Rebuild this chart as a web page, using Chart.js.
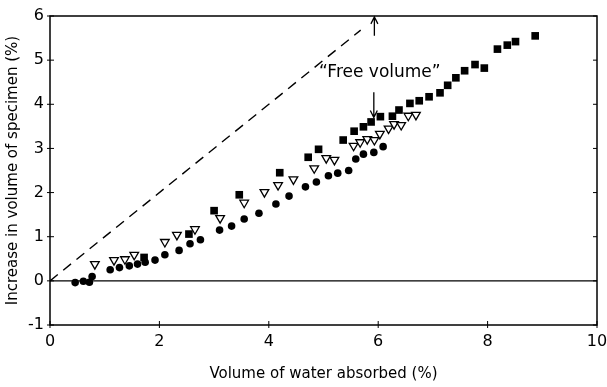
<!DOCTYPE html>
<html>
<head>
<meta charset="utf-8">
<script src="https://cdn.jsdelivr.net/npm/chart.js@4"></script>
<style>
  body { margin: 0; background: #fff; }
  canvas { display: block; }
</style>
</head>
<body>
<canvas id="myChart" width="607" height="387"></canvas>
<script>
// Swelling of the specimens against water taken up (both in %)
var circleX = [0.46, 0.61, 0.72, 0.77, 1.10, 1.27, 1.45, 1.60, 1.74, 1.92, 2.10, 2.36, 2.56, 2.75, 3.10, 3.32, 3.55, 3.82, 4.13, 4.37, 4.67, 4.87, 5.09, 5.26, 5.46, 5.59, 5.73, 5.92, 6.09];
var circleY = [-0.04, -0.01, -0.03, 0.10, 0.25, 0.30, 0.34, 0.38, 0.42, 0.47, 0.59, 0.69, 0.84, 0.93, 1.15, 1.24, 1.40, 1.53, 1.74, 1.92, 2.13, 2.24, 2.38, 2.44, 2.50, 2.76, 2.87, 2.91, 3.04];

var squareX = [1.72, 2.54, 3.00, 3.46, 4.20, 4.72, 4.91, 5.36, 5.56, 5.73, 5.87, 6.04, 6.26, 6.38, 6.58, 6.75, 6.93, 7.13, 7.27, 7.42, 7.58, 7.77, 7.94, 8.18, 8.36, 8.51, 8.87];
var squareY = [0.53, 1.06, 1.59, 1.95, 2.45, 2.80, 2.98, 3.19, 3.39, 3.49, 3.60, 3.72, 3.73, 3.87, 4.02, 4.08, 4.17, 4.26, 4.43, 4.60, 4.76, 4.90, 4.82, 5.25, 5.34, 5.42, 5.55];

var triangleX = [0.82, 1.17, 1.37, 1.54, 2.10, 2.32, 2.65, 3.11, 3.55, 3.92, 4.17, 4.45, 4.83, 5.05, 5.20, 5.55, 5.67, 5.80, 5.93, 6.03, 6.19, 6.29, 6.42, 6.55, 6.69];
var triangleY = [0.38, 0.47, 0.49, 0.59, 0.88, 1.04, 1.17, 1.42, 1.77, 2.01, 2.17, 2.30, 2.55, 2.78, 2.74, 3.06, 3.14, 3.21, 3.19, 3.33, 3.45, 3.55, 3.53, 3.74, 3.76];

// equal-volume reference line (dashed)
var refLineX = [0, 5.68];
var refLineY = [0, 5.68];

var xTicks = [0, 2, 4, 6, 8, 10];
var yTicks = [-1, 0, 1, 2, 3, 4, 5, 6];

// arrows: [x, yFrom, yTo]
var topArrow = [5.93, 5.55, 5.98];
var freeArrow = [5.92, 4.27, 3.70];
var freeLabel = { text: '\u201cFree volume\u201d', x: 6.03, y: 4.72 };

function toPoints(xs, ys) {
  return xs.map(function (x, i) { return { x: x, y: ys[i] }; });
}

function drawArrow(ctx, x, y1, y2) {
  var dir = y2 < y1 ? 1 : -1;
  ctx.beginPath();
  ctx.moveTo(x, y1);
  ctx.lineTo(x, y2);
  ctx.moveTo(x - 3.5, y2 + dir * 7);
  ctx.lineTo(x, y2);
  ctx.lineTo(x + 3.5, y2 + dir * 7);
  ctx.stroke();
}

var framePlugin = {
  id: 'frame',
  beforeDatasetsDraw: function (chart) {
    var ctx = chart.ctx, a = chart.chartArea;
    var y0 = chart.scales.y.getPixelForValue(0);
    ctx.save();
    ctx.strokeStyle = '#000';
    ctx.lineWidth = 1.3;
    ctx.beginPath();
    ctx.moveTo(a.left, y0);
    ctx.lineTo(a.right, y0);
    ctx.stroke();
    ctx.restore();
  },
  afterDatasetsDraw: function (chart) {
    var ctx = chart.ctx, a = chart.chartArea;
    var xs = chart.scales.x, ys = chart.scales.y;
    ctx.save();
    ctx.strokeStyle = '#000';
    ctx.lineWidth = 1.5;
    ctx.strokeRect(a.left, a.top, a.right - a.left, a.bottom - a.top);

    // small tick marks across the axes
    ctx.lineWidth = 1;
    ctx.beginPath();
    yTicks.forEach(function (v) {
      var p = ys.getPixelForValue(v);
      ctx.moveTo(a.left - 3, p); ctx.lineTo(a.left + 4, p);
      ctx.moveTo(a.right - 4, p); ctx.lineTo(a.right, p);
    });
    xTicks.forEach(function (v) {
      var p = xs.getPixelForValue(v);
      ctx.moveTo(p, a.bottom + 3); ctx.lineTo(p, a.bottom - 4);
    });
    ctx.stroke();

    ctx.lineWidth = 1.3;
    drawArrow(ctx, xs.getPixelForValue(topArrow[0]), ys.getPixelForValue(topArrow[1]), ys.getPixelForValue(topArrow[2]));
    drawArrow(ctx, xs.getPixelForValue(freeArrow[0]), ys.getPixelForValue(freeArrow[1]), ys.getPixelForValue(freeArrow[2]));

    ctx.fillStyle = '#000';
    ctx.font = '17px "DejaVu Sans"';
    ctx.textAlign = 'center';
    ctx.textBaseline = 'middle';
    ctx.fillText(freeLabel.text, xs.getPixelForValue(freeLabel.x), ys.getPixelForValue(freeLabel.y));
    ctx.restore();
  }
};

Chart.defaults.font.family = '"DejaVu Sans"';
Chart.defaults.color = '#000';

var ctx = document.getElementById('myChart').getContext('2d');
var myChart = new Chart(ctx, {
  type: 'scatter',
  data: {
    datasets: [
      {
        type: 'line',
        data: toPoints(refLineX, refLineY),
        borderColor: '#000',
        borderWidth: 1.4,
        borderDash: [10, 7],
        pointRadius: 0,
        fill: false
      },
      {
        data: toPoints(circleX, circleY),
        pointStyle: 'circle',
        pointRadius: 3.8,
        backgroundColor: '#000',
        borderColor: '#000',
        borderWidth: 0
      },
      {
        data: toPoints(squareX, squareY),
        pointStyle: 'rect',
        pointRadius: 5.4,
        backgroundColor: '#000',
        borderColor: '#000',
        borderWidth: 0
      },
      {
        data: toPoints(triangleX, triangleY),
        pointStyle: 'triangle',
        rotation: 180,
        pointRadius: 5,
        backgroundColor: '#fff',
        borderColor: '#000',
        borderWidth: 1.3
      }
    ]
  },
  options: {
    responsive: false,
    animation: false,
    layout: { padding: { top: 16, right: 0, left: 0, bottom: 0 } },
    plugins: {
      legend: { display: false },
      tooltip: { enabled: false }
    },
    scales: {
      x: {
        type: 'linear',
        min: 0,
        max: 10,
        afterBuildTicks: function (s) { s.ticks = xTicks.map(function (v) { return { value: v }; }); },
        afterFit: function (s) { s.height = 62; s.paddingRight = 10; s.paddingLeft = 0; },
        grid: { display: false, drawTicks: false },
        border: { display: false },
        ticks: { padding: 7, font: { size: 16 } },
        title: { display: true, text: 'Volume of water absorbed (%)', font: { size: 15 }, padding: { top: 4, bottom: 4 } }
      },
      y: {
        type: 'linear',
        min: -1,
        max: 6,
        afterBuildTicks: function (s) { s.ticks = yTicks.map(function (v) { return { value: v }; }); },
        afterFit: function (s) { s.width = 50; },
        grid: { display: false, drawTicks: false },
        border: { display: false },
        ticks: { padding: 6, font: { size: 16 } },
        title: { display: true, text: 'Increase in volume of specimen (%)', font: { size: 15 }, padding: { top: 4, bottom: 4 } }
      }
    }
  },
  plugins: [framePlugin]
});
</script>
</body>
</html>
